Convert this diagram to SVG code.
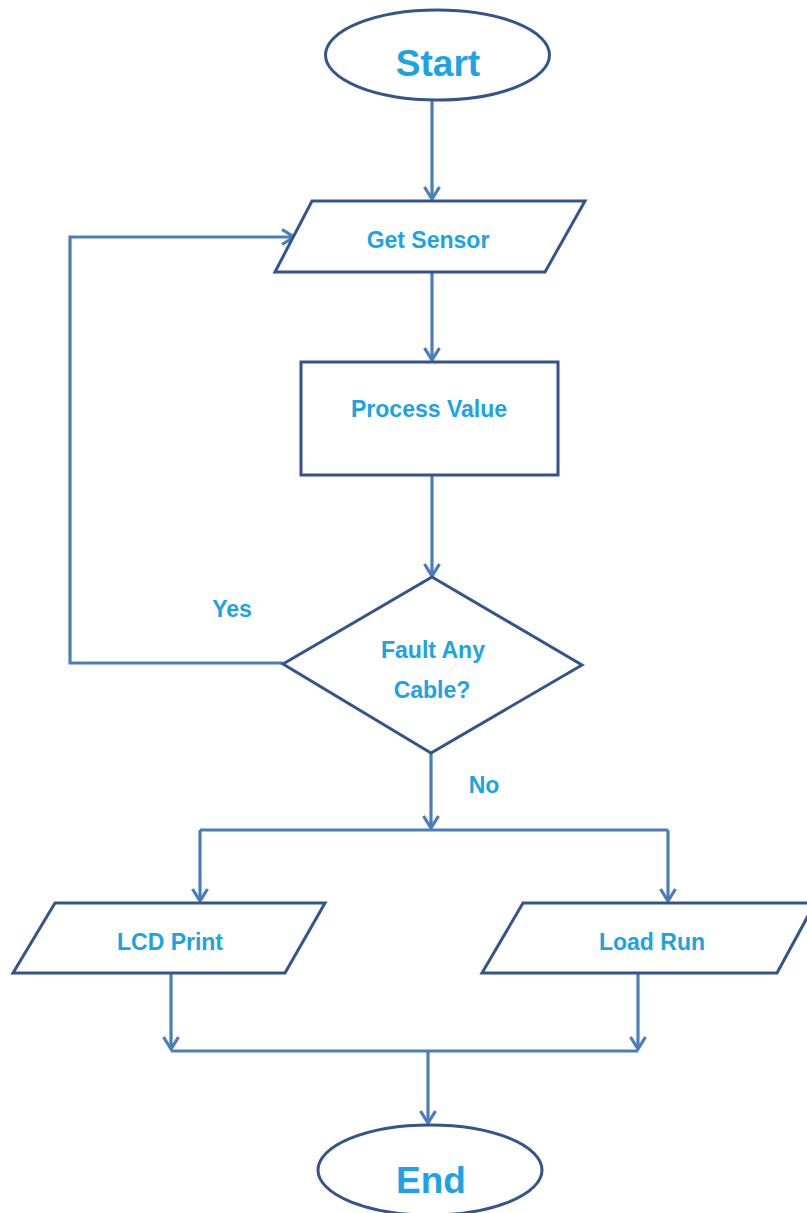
<svg xmlns="http://www.w3.org/2000/svg" width="807" height="1213" viewBox="0 0 807 1213">
  <style>
    .shape { fill: #ffffff; stroke: #34558B; stroke-width: 3; stroke-linejoin: miter; }
    .conn { fill: none; stroke: #4A7EBB; stroke-width: 3.2; }
    .lbl { font-family: "Liberation Sans", Arial, sans-serif; font-weight: bold; fill: #1BA3E6; text-anchor: middle; font-size: 23px; }
    .big { font-size: 37px; }
  </style>
  <defs>
    <marker id="arrow" markerUnits="userSpaceOnUse" markerWidth="16" markerHeight="18" viewBox="-1 -9 14 18" refX="12" refY="0" orient="auto">
      <path d="M0,-7.5 L12,0 L0,7.5" fill="none" stroke="#4A7EBB" stroke-width="3.2"/>
    </marker>
  </defs>
  <rect x="0" y="0" width="807" height="1213" fill="#ffffff"/>

  <g id="connectors">
    <path class="conn" d="M432,100 L432,199" marker-end="url(#arrow)"/>
    <path class="conn" d="M432,272 L432,360" marker-end="url(#arrow)"/>
    <path class="conn" d="M432,475 L432,576" marker-end="url(#arrow)"/>
    <path class="conn" d="M283,663 L70,663 L70,237 L294,237" marker-end="url(#arrow)"/>
    <path class="conn" d="M431,753 L431,828" marker-end="url(#arrow)"/>
    <path class="conn" d="M200,830 L668,830"/>
    <path class="conn" d="M200,830 L200,901" marker-end="url(#arrow)"/>
    <path class="conn" d="M668,830 L668,901" marker-end="url(#arrow)"/>
    <path class="conn" d="M171,973 L171,1049" marker-end="url(#arrow)"/>
    <path class="conn" d="M638,973 L638,1049" marker-end="url(#arrow)"/>
    <path class="conn" d="M171,1051 L638,1051"/>
    <path class="conn" d="M428,1051 L428,1123" marker-end="url(#arrow)"/>
  </g>

  <g id="start">
    <ellipse class="shape" cx="437.5" cy="55" rx="112" ry="45"/>
    <text class="lbl big" x="438" y="76">Start</text>
  </g>

  <g id="get-sensor">
    <polygon class="shape" points="312,201 585,201 545,272 275,272"/>
    <text class="lbl" x="428" y="248">Get Sensor</text>
  </g>

  <g id="process-value">
    <rect class="shape" x="301" y="362" width="257" height="113"/>
    <text class="lbl" x="429" y="417">Process Value</text>
  </g>

  <g id="decision">
    <polygon class="shape" points="432,577 582,665 431,753 283,664"/>
    <text class="lbl" x="433" y="658">Fault Any</text>
    <text class="lbl" x="432" y="698">Cable?</text>
  </g>

  <g id="label-yes">
    <text class="lbl" x="232" y="617">Yes</text>
  </g>
  <g id="label-no">
    <text class="lbl" x="484" y="793">No</text>
  </g>

  <g id="lcd-print">
    <polygon class="shape" points="55,903 325,903 285,973 13,973"/>
    <text class="lbl" x="170" y="950">LCD Print</text>
  </g>

  <g id="load-run">
    <polygon class="shape" points="523,903 815,903 777,973 482,973"/>
    <text class="lbl" x="652" y="950">Load Run</text>
  </g>

  <g id="end">
    <ellipse class="shape" cx="430" cy="1170" rx="112" ry="45"/>
    <text class="lbl big" x="431" y="1193">End</text>
  </g>
</svg>
